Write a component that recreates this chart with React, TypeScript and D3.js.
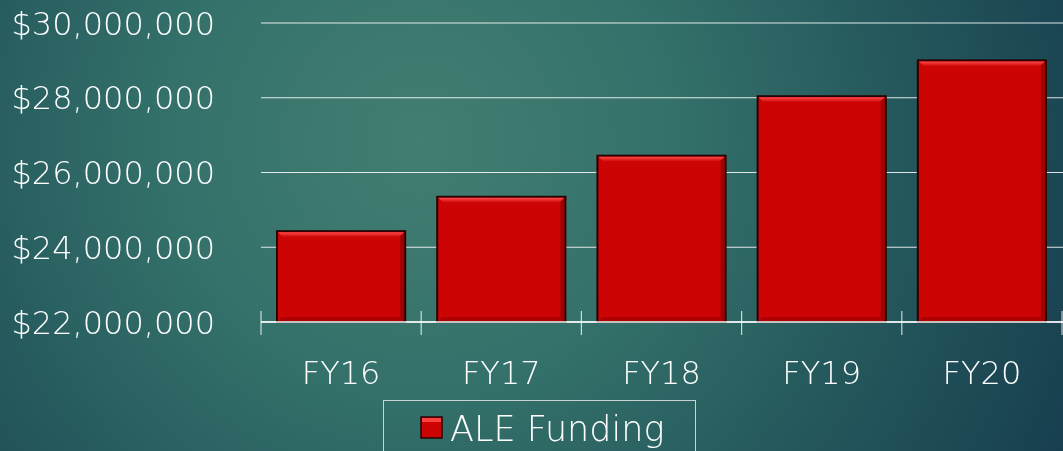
import React from "react";
import { scaleBand, scaleLinear, format } from "d3";

const categories = ["FY16", "FY17", "FY18", "FY19", "FY20"];
const aleFunding = [24430000, 25350000, 26450000, 28040000, 29000000];
const yTicks = [22000000, 24000000, 26000000, 28000000, 30000000];
const seriesName = "ALE Funding";

const width = 1063;
const height = 451;
const margin = { top: 23, right: 1, bottom: 129, left: 261 };
const font = "'DejaVu Sans', sans-serif";

const App = () => {
    const innerWidth = width - margin.left - margin.right;
    const innerHeight = height - margin.top - margin.bottom;

    const xScale = scaleBand<string>()
        .domain(categories)
        .range([0, innerWidth])
        .paddingInner(0.2)
        .paddingOuter(0.1);
    const yScale = scaleLinear()
        .domain([22000000, 30000000])
        .range([innerHeight, 0]);
    const money = (v: number) => "$" + format(",")(v);
    const step = innerWidth / categories.length;

    return (
        <div style={{ position: "fixed", left: 0, top: 0 }}>
            <svg width={width} height={height} style={{ display: "block" }}>
                <defs>
                    <radialGradient
                        id="bg"
                        cx={420}
                        cy={140}
                        r={720}
                        gradientUnits="userSpaceOnUse"
                    >
                        <stop offset="0" stopColor="#427e71" />
                        <stop offset="0.35" stopColor="#34716a" />
                        <stop offset="0.65" stopColor="#25595d" />
                        <stop offset="1" stopColor="#173e4f" />
                    </radialGradient>
                    <linearGradient id="barTop" x1="0" y1="0" x2="0" y2="1">
                        <stop offset="0" stopColor="#ff4a4a" />
                        <stop offset="1" stopColor="#cc0404" />
                    </linearGradient>
                </defs>
                <rect width={width} height={height} fill="url(#bg)" />
                <g transform={`translate(${margin.left},${margin.top})`}>
                    {yTicks.map((t) => (
                        <g key={t}>
                            <line
                                x1={0}
                                x2={innerWidth + 1}
                                y1={yScale(t)}
                                y2={yScale(t)}
                                stroke="#ffffff"
                                strokeOpacity={0.85}
                                strokeWidth={1.2}
                            />
                            <text
                                x={-46}
                                y={yScale(t)}
                                dy="0.36em"
                                textAnchor="end"
                                fill="#ffffff"
                                fontFamily={font}
                                fontWeight={200}
                                fontSize={32}
                            >
                                {money(t)}
                            </text>
                        </g>
                    ))}
                    {categories.map((c, i) => {
                        const x = xScale(c) as number;
                        const y = yScale(aleFunding[i]);
                        const w = xScale.bandwidth();
                        const h = innerHeight - y;
                        return (
                            <g key={c}>
                                <rect
                                    x={x}
                                    y={y}
                                    width={w}
                                    height={h}
                                    fill="#cc0404"
                                    stroke="#2a0000"
                                    strokeWidth={2}
                                />
                                <polygon
                                    points={`${x + 1},${y + 1} ${x + w - 1},${y + 1} ${x + w - 6},${y + 6} ${x + 6},${y + 6}`}
                                    fill="url(#barTop)"
                                />
                                <polygon
                                    points={`${x + w - 1},${y + 1} ${x + w - 1},${y + h} ${x + w - 5},${y + h - 4} ${x + w - 5},${y + 5}`}
                                    fill="#8a0000"
                                    opacity={0.7}
                                />
                                <polygon
                                    points={`${x + 1},${y + h - 1} ${x + w - 1},${y + h - 1} ${x + w - 5},${y + h - 5} ${x + 5},${y + h - 5}`}
                                    fill="#9a0000"
                                    opacity={0.6}
                                />
                                <text
                                    x={x + w / 2}
                                    y={innerHeight + 50}
                                    dy="0.36em"
                                    textAnchor="middle"
                                    fill="#ffffff"
                                    fontFamily={font}
                                    fontWeight={200}
                                    fontSize={32}
                                >
                                    {c}
                                </text>
                            </g>
                        );
                    })}
                    <line
                        x1={0}
                        x2={innerWidth + 1}
                        y1={innerHeight}
                        y2={innerHeight}
                        stroke="#ffffff"
                        strokeWidth={1.5}
                    />
                    {categories.concat([""]).map((c, i) => (
                        <line
                            key={"t" + i}
                            x1={i * step}
                            x2={i * step}
                            y1={innerHeight - 11}
                            y2={innerHeight + 13}
                            stroke="#ffffff"
                            strokeOpacity={0.75}
                            strokeWidth={1.2}
                        />
                    ))}
                </g>
                <g transform="translate(383,400)">
                    <rect
                        x={0.5}
                        y={0.5}
                        width={312}
                        height={60}
                        fill="none"
                        stroke="#c8d4d4"
                        strokeWidth={1}
                    />
                    <rect
                        x={38}
                        y={17}
                        width={21}
                        height={21}
                        fill="#cc0404"
                        stroke="#2a0000"
                        strokeWidth={1.5}
                    />
                    <rect x={39} y={18} width={19} height={4} fill="#ff4040" />
                    <text
                        x={67}
                        y={28}
                        dy="0.36em"
                        fill="#ffffff"
                        fontFamily={font}
                        fontWeight={200}
                        fontSize={35}
                    >
                        {seriesName}
                    </text>
                </g>
            </svg>
        </div>
    );
};

export default App;
